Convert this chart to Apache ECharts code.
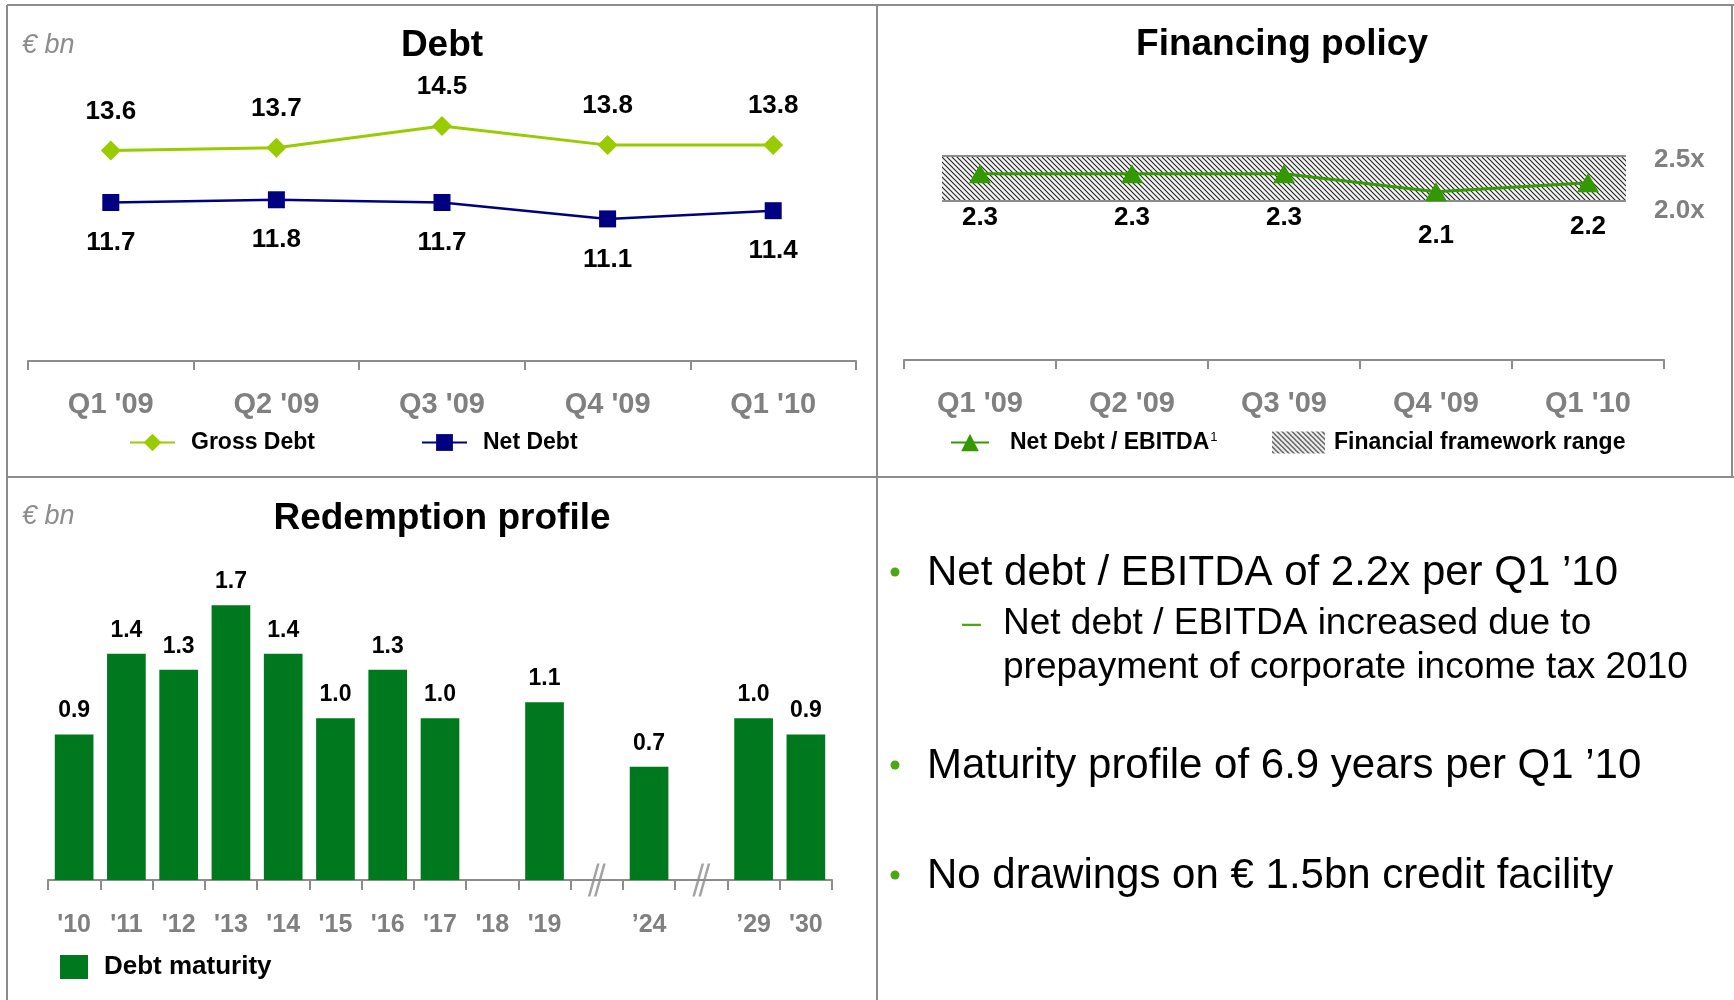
<!DOCTYPE html>
<html>
<head>
<meta charset="utf-8">
<script src="https://cdn.jsdelivr.net/npm/echarts@6/dist/echarts.min.js"></script>
<style>
  html, body { margin: 0; padding: 0; background: #fff; }
  #chart { width: 1734px; height: 1000px; }
</style>
</head>
<body>
<div id="chart"></div>
<script>
// Debt
var quarters = ["Q1 '09", "Q2 '09", "Q3 '09", "Q4 '09", "Q1 '10"];
var grossDebt = [13.6, 13.7, 14.5, 13.8, 13.8];
var netDebt = [11.7, 11.8, 11.7, 11.1, 11.4];

// Financing policy
var leverage = [2.3, 2.3, 2.3, 2.1, 2.2];
var frameworkRange = [2.0, 2.5];

// Redemption profile ('' = broken axis slot)
var years = ["'10", "'11", "'12", "'13", "'14", "'15", "'16", "'17", "'18", "'19", "", "\u201924", "", "\u201929", "'30"];
var maturity = [0.9, 1.4, 1.3, 1.7, 1.4, 1.0, 1.3, 1.0, null, 1.1, null, 0.7, null, 1.0, 0.9];
var breakSlots = [10, 12];

// Bullet text
var bullets = [
    { text: 'Net debt / EBITDA of 2.2x per Q1 \u201910', sub: ['Net debt / EBITDA increased due to', 'prepayment of corporate income tax 2010'] },
    { text: 'Maturity profile of 6.9 years per Q1 \u201910', sub: [] },
    { text: 'No drawings on \u20ac 1.5bn credit facility', sub: [] }
];

var FONT = "'Liberation Sans', Arial, sans-serif";
var GREY = '#808080';

function makeHatch() {
    var c = document.createElement('canvas');
    c.width = 5;
    c.height = 5;
    var ctx = c.getContext('2d');
    ctx.fillStyle = '#f6f6f6';
    ctx.fillRect(0, 0, 5, 5);
    ctx.strokeStyle = '#2a2a2a';
    ctx.lineWidth = 1.2;
    ctx.beginPath();
    ctx.moveTo(-1, -1); ctx.lineTo(6, 6);
    ctx.moveTo(-1, 4); ctx.lineTo(1, 6);
    ctx.moveTo(4, -1); ctx.lineTo(6, 1);
    ctx.stroke();
    return c;
}
var hatch = { image: makeHatch(), repeat: 'repeat' };

function fmt1(p) {
    var v = Array.isArray(p.value) ? p.value[1] : p.value;
    return v == null ? '' : v.toFixed(1);
}

var catAxis = function(gridIndex, data, fontSize, margin, tickLen) {
    return {
        type: 'category',
        gridIndex: gridIndex,
        data: data,
        boundaryGap: true,
        axisLine: { lineStyle: { color: '#8c8c8c', width: 2 } },
        axisTick: { show: true, length: tickLen, interval: 0, lineStyle: { color: '#8c8c8c', width: 2 } },
        axisLabel: { interval: 0, margin: margin, color: GREY, fontFamily: FONT, fontWeight: 'bold', fontSize: fontSize },
        splitLine: { show: false }
    };
};

// text panel (bottom right)
var textGraphics = [];
var by = [573, 766, 876];
bullets.forEach(function(b, i) {
    textGraphics.push({
        type: 'circle', shape: { cx: 895, cy: by[i] - 1, r: 4.5 }, style: { fill: '#4ca812' }
    });
    textGraphics.push({
        type: 'text', x: 927, y: by[i],
        style: { text: b.text, font: '42px ' + FONT, fill: '#000', verticalAlign: 'middle' }
    });
    b.sub.forEach(function(s, j) {
        if (j === 0) {
            textGraphics.push({
                type: 'text', x: 962, y: 624,
                style: { text: '\u2013', font: '34px ' + FONT, fill: '#4ca812', verticalAlign: 'middle' }
            });
        }
        textGraphics.push({
            type: 'text', x: 1003, y: 624 + j * 44,
            style: { text: s, font: '37px ' + FONT, fill: '#000', verticalAlign: 'middle' }
        });
    });
});

// panel frames
var frame = { stroke: '#8c8c8c', lineWidth: 2 };
var frameLines = [
    [7, 5, 1734, 5], [7, 5, 7, 1000], [877, 5, 877, 1000], [7, 477, 1734, 477], [1732, 5, 1732, 477]
].map(function(l) {
    return { type: 'line', shape: { x1: l[0], y1: l[1], x2: l[2], y2: l[3] }, style: frame, silent: true };
});

var unitText = function(y) {
    return { type: 'text', x: 22, y: y, style: { text: '\u20ac bn', font: 'italic 27px ' + FONT, fill: '#8c8c8c', verticalAlign: 'middle' } };
};

var titleStyle = { fontFamily: FONT, fontSize: 37, fontWeight: 'bold', color: '#000' };
var legendText = { fontFamily: FONT, fontSize: 23, fontWeight: 'bold', color: '#000', padding: [0, 0, 0, 11] };

var chart = echarts.init(document.getElementById('chart'));

var option = {
    backgroundColor: '#fff',
    animation: false,
    title: [
        { text: 'Debt', left: 442, top: 27, textAlign: 'center', padding: 0, textStyle: titleStyle },
        { text: 'Financing policy', left: 1282, top: 26, textAlign: 'center', padding: 0, textStyle: titleStyle },
        { text: 'Redemption profile', left: 442, top: 500, textAlign: 'center', padding: 0, textStyle: titleStyle }
    ],
    legend: [
        { data: ['Gross Debt'], left: 129, top: 431, itemWidth: 45, itemHeight: 22, padding: 0, selectedMode: false,
          textStyle: legendText },
        { data: ['Net Debt'], left: 421, top: 431, itemWidth: 45, itemHeight: 21, padding: 0, selectedMode: false,
          textStyle: legendText },
        { data: ['Net Debt / EBITDA'], left: 950, top: 431, itemWidth: 38, itemHeight: 22, padding: 0, selectedMode: false,
          formatter: function(name) { return '{a|' + name + '}{s|1}'; },
          textStyle: { padding: [0, 0, 0, 16], rich: {
              a: { fontFamily: FONT, fontSize: 23, fontWeight: 'bold', color: '#000' },
              s: { fontFamily: FONT, fontSize: 13, color: '#000', verticalAlign: 'top', padding: [0, 0, 10, 1] }
          } } },
        { data: [{ name: 'Financial framework range', icon: 'rect', itemStyle: { color: hatch, borderWidth: 0 } }],
          left: 1272, top: 431, itemWidth: 53, itemHeight: 22, padding: 0, selectedMode: false,
          textStyle: { fontFamily: FONT, fontSize: 23, fontWeight: 'bold', color: '#000', padding: [0, 0, 0, 4] } },
        { data: ['Debt maturity'], icon: 'rect', left: 60, top: 954, itemWidth: 28, itemHeight: 24, padding: 0, selectedMode: false,
          textStyle: { fontFamily: FONT, fontSize: 26, fontWeight: 'bold', color: '#000', padding: [0, 0, 0, 11] } }
    ],
    grid: [
        { left: 28, right: 878, top: 85, bottom: 639 },
        { left: 904, right: 70, top: 110, bottom: 640 },
        { left: 48, right: 902, top: 492, bottom: 120 }
    ],
    xAxis: [
        catAxis(0, quarters, 29, 29, 9),
        catAxis(1, quarters, 29, 29, 9),
        { type: 'value', gridIndex: 1, min: -0.5, max: 4.5, show: false },
        catAxis(2, years, 25, 33, 10)
    ],
    yAxis: [
        { type: 'value', gridIndex: 0, min: 5.9, max: 16, show: false },
        { type: 'value', gridIndex: 1, min: 0.25, max: 3.0, show: false },
        { type: 'value', gridIndex: 2, min: 0, max: 2.4, show: false }
    ],
    series: [
        {
            name: 'Gross Debt', type: 'line', xAxisIndex: 0, yAxisIndex: 0,
            data: grossDebt, color: '#99cc00',
            symbol: 'diamond', symbolSize: 20,
            lineStyle: { width: 3 },
            label: { show: true, position: 'top', distance: 16, formatter: fmt1,
                     fontFamily: FONT, fontSize: 26, fontWeight: 'bold', color: '#000' }
        },
        {
            name: 'Net Debt', type: 'line', xAxisIndex: 0, yAxisIndex: 0,
            data: netDebt, color: '#000080',
            symbol: 'rect', symbolSize: 17,
            lineStyle: { width: 2.5 },
            label: { show: true, position: 'bottom', distance: 19, formatter: fmt1,
                     fontFamily: FONT, fontSize: 26, fontWeight: 'bold', color: '#000' }
        },
        {
            // framework band, drawn on the hidden value x axis
            name: 'Financial framework range', type: 'line', xAxisIndex: 2, yAxisIndex: 1,
            data: [[-0.25, frameworkRange[0]], [4.25, frameworkRange[0]]],
            symbol: 'none', lineStyle: { opacity: 0 }, color: '#555', z: 1, silent: true,
            markArea: {
                silent: true,
                itemStyle: { color: hatch },
                data: [[{ coord: [-0.25, frameworkRange[0]] }, { coord: [4.25, frameworkRange[1]] }]]
            },
            markLine: {
                silent: true, symbol: 'none',
                lineStyle: { color: '#8c8c8c', width: 2, type: 'solid' },
                label: { show: true, position: 'end', distance: 28,
                         formatter: function(p) { return p.value.toFixed(1) + 'x'; },
                         fontFamily: FONT, fontSize: 26, fontWeight: 'bold', color: GREY },
                data: frameworkRange.map(function(v, i) {
                    return [{ coord: [-0.25, v], value: v, label: { offset: [0, i === 0 ? 10 : 4] } }, { coord: [4.25, v] }];
                })
            }
        },
        {
            name: 'Net Debt / EBITDA', type: 'line', xAxisIndex: 1, yAxisIndex: 1,
            data: leverage, color: '#339900', z: 5,
            symbol: 'triangle', symbolSize: [22, 19],
            lineStyle: { width: 3 },
            label: { show: true, position: 'bottom', distance: 22, formatter: fmt1,
                     fontFamily: FONT, fontSize: 26, fontWeight: 'bold', color: '#000' }
        },
        {
            name: 'Debt maturity', type: 'bar', xAxisIndex: 3, yAxisIndex: 2,
            data: maturity, color: '#00781e', barWidth: '74%',
            label: { show: true, position: 'top', distance: 12, formatter: fmt1,
                     fontFamily: FONT, fontSize: 23, fontWeight: 'bold', color: '#000' }
        },
        {
            // axis break marks
            name: 'break', type: 'scatter', xAxisIndex: 3, yAxisIndex: 2,
            data: breakSlots.map(function(i) { return [i, 0]; }),
            symbol: 'path://M0,32 L9,0 L11.5,0 L2.5,32 Z M6,32 L15,0 L17.5,0 L8.5,32 Z',
            symbolSize: [18, 33], symbolKeepAspect: false,
            itemStyle: { color: '#8c8c8c' }, silent: true, z: 10
        }
    ],
    graphic: frameLines.concat([unitText(45), unitText(516)]).concat(textGraphics)
};

chart.setOption(option);
</script>
</body>
</html>
